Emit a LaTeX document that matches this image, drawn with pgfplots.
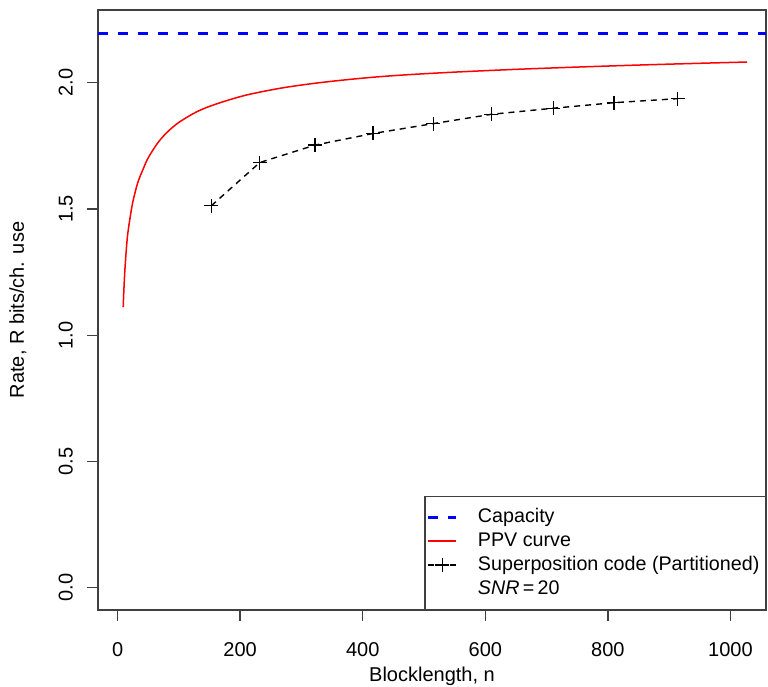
\documentclass[border=0pt]{standalone}
\usepackage{fontspec}
\setmainfont{Liberation Sans}
\usepackage{pgfplots}
\pgfplotsset{compat=1.18}
\begin{document}
\begin{tikzpicture}
\useasboundingbox (-49pt,-38.5pt) rectangle (335pt,305pt);
\begin{axis}[at={(0,0)}, anchor=south west, scale only axis, width=334pt, height=300pt,
  xmin=-32, xmax=1058, ymin=-0.088, ymax=2.288,
  xtick={0,200,...,1000}, ytick={0,0.5,1,1.5,2},
  tick pos=left, tick align=outside, major tick length=5.5pt,
  axis line style={black!75, line width=0.7pt}, every tick/.style={black!75, line width=0.7pt},
  font=\fontsize{10}{12}\selectfont,
  /pgf/number format/assume math mode=true,
  yticklabel style={rotate=90, anchor=south, /pgf/number format/.cd, fixed, fixed zerofill, precision=1},
  xticklabel style={/pgf/number format/.cd, set thousands separator={}},
  xticklabel shift=7pt, yticklabel shift=3.5pt,
  xlabel={Blocklength, n}, ylabel={Rate, R bits/ch. use},
  xlabel style={at={(axis description cs:0.5,0)}, anchor=center, yshift=-33pt},
  ylabel style={at={(axis description cs:0,0.5)}, anchor=center, yshift=40pt},
  legend image code/.code={\draw[mark repeat=2, mark phase=2, #1] plot coordinates {(0pt,0pt) (7pt,0pt) (14pt,0pt)};},
  legend style={at={(1,0)}, anchor=south east, draw=black!75, line width=0.6pt, fill=white,
    font=\fontsize{9.85}{11}\selectfont, cells={anchor=west, inner xsep=0.5pt}, row sep=-0.5pt,
    inner xsep=1pt, inner ysep=4pt},
  legend cell align=left]
  % capacity
  \addplot[blue, line width=1.5pt, dash pattern=on 5pt off 5pt] coordinates {(-32,2.196) (1058,2.196)};
  \addlegendentry{\hspace{8pt}Capacity}
  % PPV curve
  \addplot[red, line width=0.75pt, smooth] coordinates {
    (9.1,1.111) (11,1.22) (13,1.30) (16,1.39) (20,1.46) (25,1.53) (33,1.605)
    (42,1.66) (50,1.703) (65,1.760) (80,1.802) (100,1.843) (130,1.886) (160,1.915)
    (208,1.950) (265,1.978) (319,1.997) (374,2.012) (428,2.024) (482,2.033)
    (558,2.043) (650,2.053) (750,2.062) (850,2.070) (950,2.077) (1027,2.082)};
  \addlegendentry{\hspace{8pt}PPV curve}
  % superposition code
  \addplot[black, line width=0.7pt, dash pattern=on 3pt off 2.5pt, mark=+, mark size=3.5pt,
    mark options={solid, line width=0.7pt}] coordinates {
    (153,1.513) (232,1.684) (322,1.753) (417,1.799) (515,1.838)
    (610,1.875) (711,1.899) (810,1.921) (914,1.937)};
  \addlegendentry{\hspace{8pt}Superposition code (Partitioned)}
  \addlegendimage{empty legend}
  \addlegendentry{\hspace{8pt}\textit{SNR}\,=\,20}
\end{axis}
\end{tikzpicture}
\end{document}
